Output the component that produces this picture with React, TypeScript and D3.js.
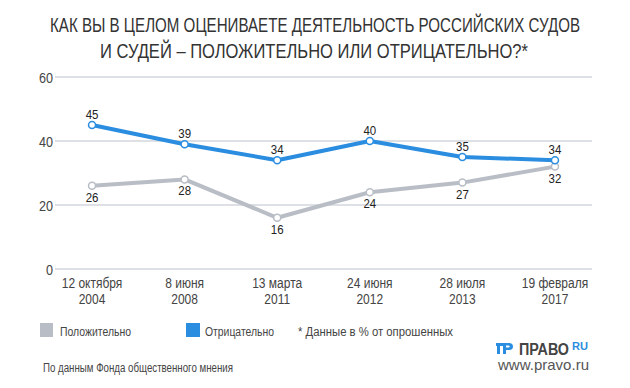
import React from "react";
import * as d3 from "d3";

const dates = ["12 октября", "8 июня", "13 марта", "24 июня", "28 июля", "19 февраля"];
const years = ["2004", "2008", "2011", "2012", "2013", "2017"];
const positive = [26, 28, 16, 24, 27, 32];
const negative = [45, 39, 34, 40, 35, 34];
const yTicks = [0, 20, 40, 60];

const BLUE = "#2a8de0";
const GRAY = "#b9bdc5";
const FONT = "'Liberation Sans', Arial, sans-serif";

// narrow text: the reference uses a condensed face, so squeeze horizontally
function Narrow(props: {
  x: number;
  y: number;
  size: number;
  sx?: number;
  anchor?: string;
  fill?: string;
  weight?: string;
  children: React.ReactNode;
}) {
  const { x, y, size, sx = 0.8, anchor = "middle", fill = "#444", weight = "normal", children } = props;
  return (
    <text
      transform={`translate(${x},${y}) scale(${sx},1)`}
      textAnchor={anchor}
      fontSize={size}
      fill={fill}
      fontWeight={weight}
    >
      {children}
    </text>
  );
}

export default function App() {
  const width = 630;
  const height = 388;

  const x = d3.scalePoint<string>().domain(dates).range([55, 592]).padding(0.4);
  const y = d3.scaleLinear().domain([0, 60]).range([269, 77]);

  const line = d3
    .line<number>()
    .x((_, i) => x(dates[i]) as number)
    .y((d) => y(d));

  return (
    <svg
      width={width}
      height={height}
      style={{ position: "absolute", left: 0, top: 0, background: "#fff" }}
      fontFamily={FONT}
    >
      <text x={315} y={32} textAnchor="middle" fontSize={21} fill="#333" textLength={530} lengthAdjust="spacingAndGlyphs">
        КАК ВЫ В ЦЕЛОМ ОЦЕНИВАЕТЕ ДЕЯТЕЛЬНОСТЬ РОССИЙСКИХ СУДОВ
      </text>
      <text x={314} y={58} textAnchor="middle" fontSize={21} fill="#333" textLength={428} lengthAdjust="spacingAndGlyphs">
        И СУДЕЙ – ПОЛОЖИТЕЛЬНО ИЛИ ОТРИЦАТЕЛЬНО?*
      </text>

      {yTicks.map((t) => (
        <g key={t}>
          <line x1={55} x2={592} y1={y(t)} y2={y(t)} stroke="#dde0e4" strokeWidth={2} />
          <Narrow x={53} y={y(t) + 5.5} size={15} sx={0.84} anchor="end">
            {t}
          </Narrow>
        </g>
      ))}

      {dates.map((d, i) => (
        <g key={d}>
          <Narrow x={x(d) as number} y={288} size={15} sx={0.8}>
            {d}
          </Narrow>
          <Narrow x={x(d) as number} y={304} size={15} sx={0.8}>
            {years[i]}
          </Narrow>
        </g>
      ))}

      <path d={line(positive) || ""} fill="none" stroke={GRAY} strokeWidth={4} strokeLinejoin="round" />
      <path d={line(negative) || ""} fill="none" stroke={BLUE} strokeWidth={4} strokeLinejoin="round" />

      {positive.map((v, i) => (
        <g key={"p" + i}>
          <circle cx={x(dates[i])} cy={y(v)} r={3.5} fill="#fff" stroke={GRAY} strokeWidth={1.5} />
          <Narrow x={x(dates[i]) as number} y={y(v) + 16} size={13.5} sx={0.85} fill="#222">
            {v}
          </Narrow>
        </g>
      ))}
      {negative.map((v, i) => (
        <g key={"n" + i}>
          <circle cx={x(dates[i])} cy={y(v)} r={3.5} fill="#fff" stroke={BLUE} strokeWidth={1.5} />
          <Narrow x={x(dates[i]) as number} y={y(v) - 6.5} size={13.5} sx={0.85} fill="#222">
            {v}
          </Narrow>
        </g>
      ))}

      <rect x={40} y={323} width={13} height={14} fill={GRAY} />
      <text x={60} y={336} fontSize={12.5} fill="#444" textLength={71} lengthAdjust="spacingAndGlyphs">Положительно</text>
      <rect x={186} y={323} width={14} height={14} fill={BLUE} />
      <text x={205} y={336} fontSize={12.5} fill="#444" textLength={69} lengthAdjust="spacingAndGlyphs">Отрицательно</text>
      <text x={298} y={336} fontSize={12.5} fill="#444" textLength={155} lengthAdjust="spacingAndGlyphs">* Данные в % от опрошенных</text>

      <text x={43} y={372} fontSize={12} fill="#444" textLength={190} lengthAdjust="spacingAndGlyphs">По данным Фонда общественного мнения</text>

      <g>
        <rect x={496} y={343} width={10} height={3} fill={BLUE} />
        <rect x={497} y={343} width={3} height={11} fill={BLUE} />
        <rect x={503} y={343} width={3} height={11} fill={BLUE} />
        <path d="M506,343 h3 a4,3.5 0 0 1 0,7 h-3 v-2.5 h2.5 a1.2,1 0 0 0 0,-2 h-2.5 z" fill={BLUE} />
        <text x={519} y={355} fontSize={16} fontWeight="bold" fill="#444" textLength={50} lengthAdjust="spacingAndGlyphs">ПРАВО</text>
        <text x={572} y={350} fontSize={10} fontWeight="bold" fill={BLUE} textLength={16} lengthAdjust="spacingAndGlyphs">RU</text>
        <text x={498} y={370} fontSize={15} fill="#555" textLength={91} lengthAdjust="spacingAndGlyphs">www.pravo.ru</text>
      </g>
    </svg>
  );
}
